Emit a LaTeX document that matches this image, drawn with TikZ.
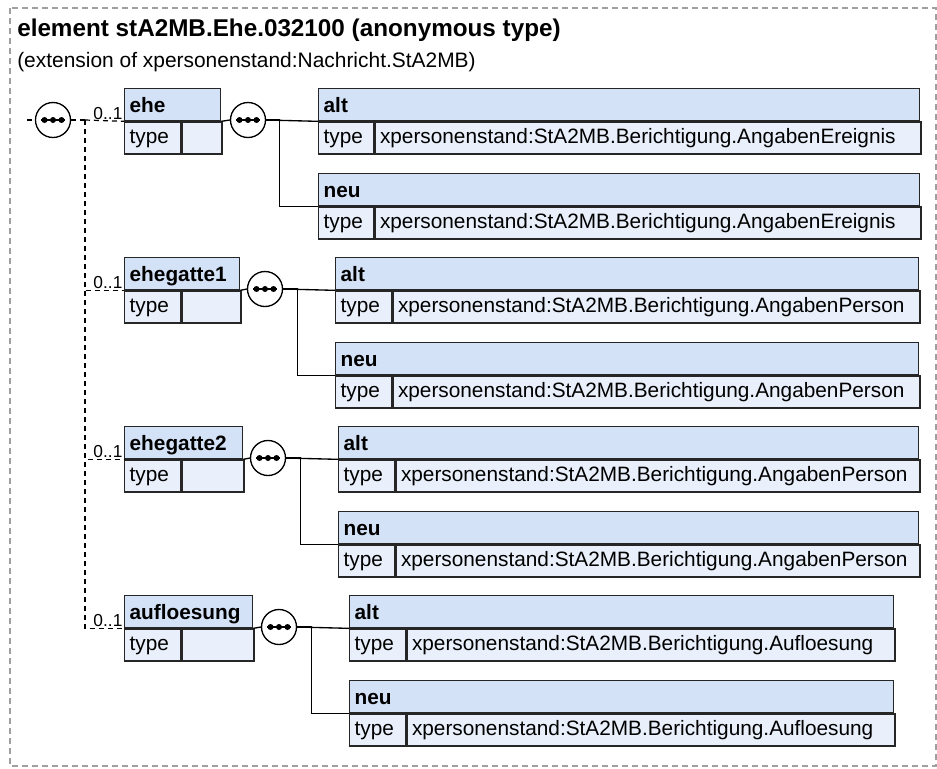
\documentclass[tikz,border=0pt]{standalone}
\usepackage{fontspec}
\setmainfont{Liberation Sans}
\usetikzlibrary{positioning}
\usetikzlibrary{calc}

\definecolor{hdrblue}{RGB}{212,226,247}
\definecolor{bodyblue}{RGB}{233,240,251}
\definecolor{framegray}{RGB}{160,160,160}

\tikzset{
  hdrbox/.style={draw=black!85,fill=hdrblue,line width=1pt,anchor=north west,
    minimum height=24pt,inner xsep=3.75pt,inner ysep=0pt,align=left,
    text height=12pt,text depth=0pt,
    font=\fontsize{15.6}{18}\selectfont\bfseries},
  cellbox/.style={draw=black!85,fill=bodyblue,line width=1pt,anchor=north west,
    minimum height=24pt,inner xsep=3.75pt,inner ysep=0pt,align=left,
    text height=11pt,text depth=3.5pt,
    font=\fontsize{15.6}{18}\selectfont},
  seqcirc/.style={circle,draw,fill=white,line width=1pt,minimum size=26.25pt,inner sep=0pt},
  seqdots/.style={line width=1.2pt},
  conn/.style={line width=1pt},
  optconn/.style={line width=0.9pt,dash pattern=on 3.75pt off 3pt},
  card/.style={anchor=south east,inner sep=1pt,font=\fontsize{13}{14}\selectfont},
}

% element box: name, x, top, width, type width, label, type text
\newcommand{\xsdel}[7]{%
  \pgfmathsetlengthmacro{\xhdrw}{(#4-10)*0.75pt}%
  \pgfmathsetlengthmacro{\xkeyw}{(#5-10)*0.75pt}%
  \pgfmathsetlengthmacro{\xvalw}{(#4-#5-10)*0.75pt}%
  \node[hdrbox,text width=\xhdrw] (#1) at (#2,#3) {#6};
  \node[cellbox,text width=\xkeyw] (#1-k) at (#1.south west) {type};
  \node[cellbox,text width=\xvalw] (#1-v) at (#1-k.north east) {#7};
}

\begin{document}
\begin{tikzpicture}[x=0.75pt,y=-0.75pt]
\useasboundingbox (0,0) rectangle (937,768);
\draw[framegray,line width=0.8pt,dash pattern=on 4.5pt off 3pt] (10,8) rectangle (936,766);

\node[anchor=base west,inner sep=0pt,font=\fontsize{18.2}{20}\selectfont\bfseries] (title) at (17,36)
  {element stA2MB.Ehe.032100 (anonymous type)};
\node[anchor=base west,inner sep=0pt,font=\fontsize{15.7}{18}\selectfont] (subtitle) at (17,67)
  {(extension of xpersonenstand:Nachricht.StA2MB)};

% root sequence
\coordinate (rootin) at (27,120);
\coordinate (trunk) at (85,120);
\node[seqcirc] (root) at (53,120) {};

% elements
\xsdel{ehe}{124}{88}{96}{56}{ehe}{}
\xsdel{ehegatte1}{124}{257}{115}{56}{ehegatte1}{}
\xsdel{ehegatte2}{124}{426}{118}{56}{ehegatte2}{}
\xsdel{aufloesung}{124}{595}{128}{56}{aufloesung}{}

% children
\xsdel{ehe-alt}{318}{88}{601}{55}{alt}{xpersonenstand:StA2MB.Berichtigung.AngabenEreignis}
\xsdel{ehe-neu}{318}{173}{601}{55}{neu}{xpersonenstand:StA2MB.Berichtigung.AngabenEreignis}
\xsdel{eg1-alt}{335}{257}{583}{56}{alt}{xpersonenstand:StA2MB.Berichtigung.AngabenPerson}
\xsdel{eg1-neu}{335}{342}{583}{56}{neu}{xpersonenstand:StA2MB.Berichtigung.AngabenPerson}
\xsdel{eg2-alt}{338}{426}{580}{56}{alt}{xpersonenstand:StA2MB.Berichtigung.AngabenPerson}
\xsdel{eg2-neu}{338}{511}{580}{56}{neu}{xpersonenstand:StA2MB.Berichtigung.AngabenPerson}
\xsdel{auf-alt}{349}{595}{544}{56}{alt}{xpersonenstand:StA2MB.Berichtigung.Aufloesung}
\xsdel{auf-neu}{349}{680}{544}{56}{neu}{xpersonenstand:StA2MB.Berichtigung.Aufloesung}

% sequences
\node[seqcirc] (s-ehe) at (248,120) {};
\node[seqcirc] (s-eg1) at (265,289) {};
\node[seqcirc] (s-eg2) at (268,458) {};
\node[seqcirc] (s-auf) at (279,627) {};
\foreach \s in {root,s-ehe,s-eg1,s-eg2,s-auf} {
  \draw[seqdots] ($(\s.center)+(-12,0)$) -- ($(\s.center)+(12,0)$);
  \foreach \dx in {-8.5,0,8.5}
    \fill ($(\s.center)+(\dx,0)$) circle (3);
}

% optional links
\draw[optconn] (rootin) -- (root.west);
\draw[optconn] (root.east) -- (trunk);
\draw[optconn] (trunk) -- (ehe.south west);
\draw[optconn] (trunk) |- (ehegatte1.south west);
\draw[optconn] (trunk) |- (ehegatte2.south west);
\draw[optconn] (trunk) |- (aufloesung.south west);
\node[card] (c-ehe) at (ehe.south west) {0..1};
\node[card] (c-eg1) at (ehegatte1.south west) {0..1};
\node[card] (c-eg2) at (ehegatte2.south west) {0..1};
\node[card] (c-auf) at (aufloesung.south west) {0..1};

% content links
\draw[conn] (ehe.south east) -- (s-ehe.west);
\draw[conn] (s-ehe.east) -- (ehe-alt.south west);
\draw[conn] (s-ehe.east) -- ++(13,0) |- (ehe-neu.south west);
\draw[conn] (ehegatte1.south east) -- (s-eg1.west);
\draw[conn] (s-eg1.east) -- (eg1-alt.south west);
\draw[conn] (s-eg1.east) -- ++(14,0) |- (eg1-neu.south west);
\draw[conn] (ehegatte2.south east) -- (s-eg2.west);
\draw[conn] (s-eg2.east) -- (eg2-alt.south west);
\draw[conn] (s-eg2.east) -- ++(14,0) |- (eg2-neu.south west);
\draw[conn] (aufloesung.south east) -- (s-auf.west);
\draw[conn] (s-auf.east) -- (auf-alt.south west);
\draw[conn] (s-auf.east) -- ++(14,0) |- (auf-neu.south west);
\end{tikzpicture}
\end{document}
